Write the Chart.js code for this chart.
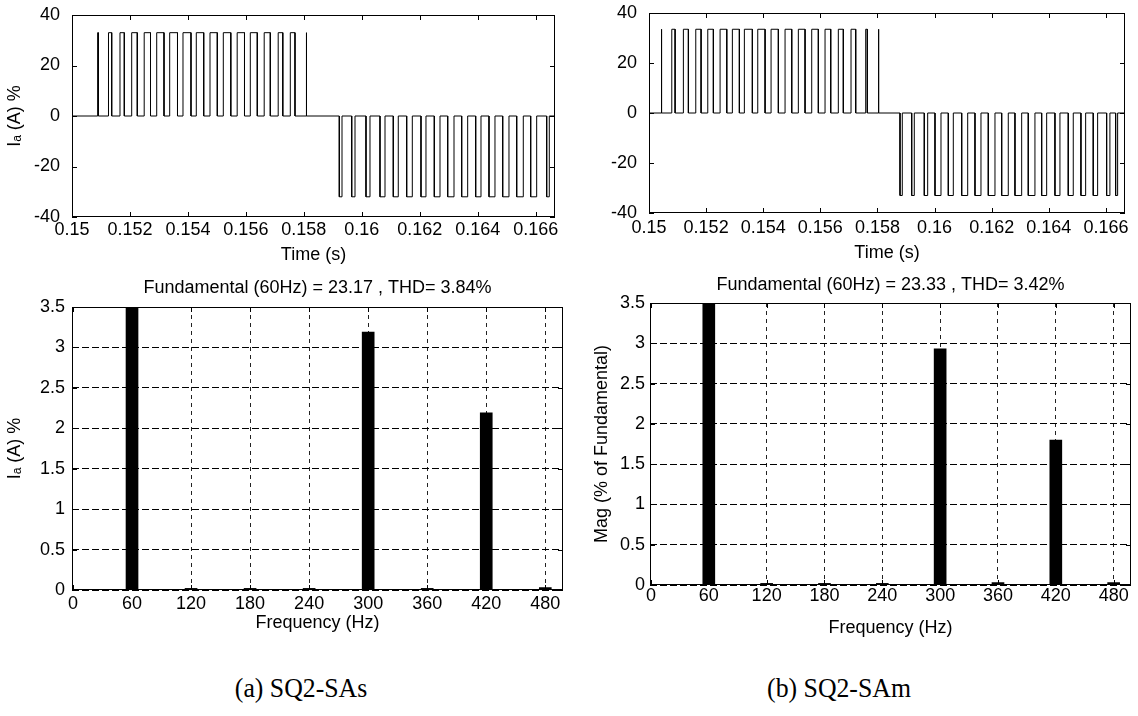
<!DOCTYPE html>
<html>
<head>
<meta charset="utf-8">
<script src="https://cdn.jsdelivr.net/npm/chart.js@4.4.0/dist/chart.umd.min.js"></script>
<style>
  html, body { margin: 0; padding: 0; background: #fff; }
  #page { position: relative; width: 1138px; height: 716px; overflow: hidden; background: #fff; }
  #page canvas { position: absolute; }
  .cap { position: absolute; font-family: "Liberation Serif", "Times New Roman", serif; font-size: 28px; color: #000; white-space: nowrap; transform: translateX(-50%) scaleX(0.92); }
</style>
</head>
<body>
<div id="page">
  <canvas id="waveA" width="585" height="264" style="left:0px;top:0px"></canvas>
  <canvas id="waveB" width="557" height="262" style="left:580px;top:0px"></canvas>
  <canvas id="specA" width="583" height="362" style="left:0px;top:270px"></canvas>
  <canvas id="specB" width="553" height="367" style="left:585px;top:270px"></canvas>
  <div class="cap" style="left:301px;top:672px">(a) SQ2-SAs</div>
  <div class="cap" style="left:839px;top:672px">(b) SQ2-SAm</div>
</div>
<script>
// ---- time traces ----
const timeStart = 0.15;
const timeEnd = 0.166667;
const timeTicks = [0.15, 0.152, 0.154, 0.156, 0.158, 0.16, 0.162, 0.164, 0.166];
const timeTickLabels = ['0.15', '0.152', '0.154', '0.156', '0.158', '0.16', '0.162', '0.164', '0.166'];
const currentTicks = [-40, -20, 0, 20, 40];

// switching pulses [on, off] in seconds
const pulsesAPos = [
  [0.150887, 0.150908], [0.151259, 0.151370], [0.151656, 0.151805], [0.152060, 0.152253],
  [0.152491, 0.152709], [0.152923, 0.153175], [0.153371, 0.153640], [0.153830, 0.154106],
  [0.154289, 0.154545], [0.154762, 0.155014], [0.155221, 0.155480], [0.155700, 0.155952],
  [0.156153, 0.156394], [0.156632, 0.156843], [0.157115, 0.157274], [0.157533, 0.157695],
  [0.158075, 0.158099]
];
const pulsesANeg = [
  [0.159224, 0.159317], [0.159652, 0.159766], [0.160145, 0.160283], [0.160628, 0.160801],
  [0.161087, 0.161259], [0.161549, 0.161743], [0.162043, 0.162215], [0.162502, 0.162699],
  [0.162964, 0.163182], [0.163447, 0.163654], [0.163930, 0.164113], [0.164389, 0.164596],
  [0.164862, 0.165079], [0.165345, 0.165573], [0.165828, 0.166035], [0.166380, 0.166470]
];
const levelA = [33, -32];

const pulsesBPos = [
  [0.150424, 0.150448], [0.150798, 0.150914], [0.151204, 0.151379], [0.151638, 0.151824],
  [0.152058, 0.152254], [0.152489, 0.152723], [0.152919, 0.153164], [0.153339, 0.153619],
  [0.153808, 0.154064], [0.154274, 0.154529], [0.154764, 0.154998], [0.155229, 0.155464],
  [0.155698, 0.155929], [0.156164, 0.156363], [0.156629, 0.156804], [0.157074, 0.157238],
  [0.157588, 0.157644], [0.158029, 0.158047]
];
const pulsesBNeg = [
  [0.158789, 0.158869], [0.159198, 0.159289], [0.159639, 0.159758], [0.160014, 0.160224],
  [0.160480, 0.160655], [0.160949, 0.161159], [0.161414, 0.161624], [0.161880, 0.162114],
  [0.162349, 0.162580], [0.162814, 0.163049], [0.163280, 0.163514], [0.163749, 0.163924],
  [0.164214, 0.164389], [0.164680, 0.164855], [0.165124, 0.165289], [0.165555, 0.165709],
  [0.166024, 0.166139], [0.166339, 0.166409]
];
const levelB = [33.5, -33];

// ---- harmonic spectra ----
const freqTicks = [0, 60, 120, 180, 240, 300, 360, 420, 480];
const harmonicFreqs = [60, 120, 180, 240, 300, 360, 420, 480];
const harmonicsA = [100, 0.02, 0.02, 0.02, 3.19, 0.02, 2.19, 0.03];
const harmonicsB = [100, 0.02, 0.02, 0.02, 2.93, 0.03, 1.80, 0.03];
const magTicks = [0, 0.5, 1, 1.5, 2, 2.5, 3, 3.5];
const titleA = 'Fundamental (60Hz) = 23.17 , THD= 3.84%';
const titleB = 'Fundamental (60Hz) = 23.33 , THD= 3.42%';

Chart.defaults.font.family = '"Liberation Sans", Arial, sans-serif';
Chart.defaults.font.size = 18;
Chart.defaults.font.lineHeight = 1;
Chart.defaults.color = '#000';

// matlab style box with the ticks pointing inwards
const boxTicks = {
  id: 'boxTicks',
  afterDatasetsDraw(chart) {
    const ctx = chart.ctx, a = chart.chartArea;
    const xs = chart.scales.x, ys = chart.scales.y;
    ctx.save();
    ctx.strokeStyle = '#000';
    ctx.lineWidth = 1;
    ctx.beginPath();
    xs.ticks.forEach(t => {
      const px = Math.round(xs.getPixelForValue(t.value)) + 0.5;
      ctx.moveTo(px, a.bottom); ctx.lineTo(px, a.bottom - 5);
      ctx.moveTo(px, a.top); ctx.lineTo(px, a.top + 5);
    });
    ys.ticks.forEach(t => {
      const py = Math.round(ys.getPixelForValue(t.value)) + 0.5;
      ctx.moveTo(a.left, py); ctx.lineTo(a.left + 5, py);
      ctx.moveTo(a.right, py); ctx.lineTo(a.right - 5, py);
    });
    ctx.stroke();
    ctx.strokeRect(Math.round(a.left) + 0.5, Math.round(a.top) + 0.5, Math.round(a.width) - 1, Math.round(a.height) - 1);
    ctx.restore();
  }
};

function trace(pos, neg, level) {
  const pts = [{x: timeStart, y: 0}];
  pos.forEach(p => pts.push({x: p[0], y: 0}, {x: p[0], y: level[0]}, {x: p[1], y: level[0]}, {x: p[1], y: 0}));
  neg.forEach(p => pts.push({x: p[0], y: 0}, {x: p[0], y: level[1]}, {x: p[1], y: level[1]}, {x: p[1], y: 0}));
  pts.push({x: timeEnd, y: 0});
  return pts;
}

function waveChart(id, pts, g) {
  return new Chart(document.getElementById(id), {
    type: 'line',
    data: { datasets: [{ data: pts, borderColor: '#000', borderWidth: 1, pointRadius: 0, tension: 0, fill: false }] },
    options: {
      responsive: false, animation: false, devicePixelRatio: 1,
      layout: { padding: g.pad },
      plugins: { legend: { display: false }, tooltip: { enabled: false } },
      scales: {
        x: {
          type: 'linear', min: timeStart, max: timeEnd,
          afterBuildTicks: s => { s.ticks = timeTicks.map(v => ({value: v})); },
          afterFit: s => { s.height = g.xh; },
          grid: { display: false }, border: { display: false },
          ticks: { padding: g.xtp, autoSkip: false, maxRotation: 0, callback: (v, i) => timeTickLabels[i] },
          title: { display: true, text: 'Time (s)', padding: { top: 0, bottom: g.xtb } }
        },
        y: {
          min: -40, max: 40,
          afterBuildTicks: s => { s.ticks = currentTicks.map(v => ({value: v})); },
          afterFit: s => { s.width = g.yw; },
          grid: { display: false }, border: { display: false },
          ticks: { padding: g.ytp },
          title: { display: !!g.ytitle, text: g.ytitle || '', padding: { top: g.ytt, bottom: 0 } }
        }
      }
    },
    plugins: [boxTicks]
  });
}

function specChart(id, vals, title, g) {
  return new Chart(document.getElementById(id), {
    type: 'bar',
    data: { datasets: [{ data: harmonicFreqs.map((f, i) => ({x: f, y: vals[i]})), backgroundColor: '#000', borderWidth: 0, barThickness: 12 }] },
    options: {
      responsive: false, animation: false, devicePixelRatio: 1,
      layout: { padding: g.pad },
      plugins: {
        legend: { display: false }, tooltip: { enabled: false },
        title: { display: true, text: title, fullSize: false, padding: { top: g.tt, bottom: g.tb }, font: { weight: 'normal', size: 18 } }
      },
      scales: {
        x: {
          type: 'linear', min: -1, max: 498, offset: false,
          afterBuildTicks: s => { s.ticks = freqTicks.map(v => ({value: v})); },
          afterFit: s => { s.height = g.xh; },
          grid: { color: '#222', lineWidth: 1, drawTicks: false, offset: false },
          border: { display: false, dash: [4, 4] },
          ticks: { padding: g.xtp, autoSkip: false, maxRotation: 0 },
          title: { display: true, text: 'Frequency (Hz)', padding: { top: 0, bottom: g.xtb } }
        },
        y: {
          min: 0, max: 3.5,
          afterBuildTicks: s => { s.ticks = magTicks.map(v => ({value: v})); },
          afterFit: s => { s.width = g.yw; },
          grid: { color: '#000', lineWidth: 1, drawTicks: false },
          border: { display: false, dash: [7, 3] },
          ticks: { padding: g.ytp, callback: v => String(v) },
          title: { display: true, text: g.ytitle, padding: { top: g.ytt, bottom: 0 } }
        }
      }
    },
    plugins: [boxTicks]
  });
}

waveChart('waveA', trace(pulsesAPos, pulsesANeg, levelA),
  { pad: {top: 15, left: 0, right: 30, bottom: 0}, xh: 47, xtp: -3.5, xtb: 0, yw: 72, ytp: 4, ytitle: 'I\u2090 (A) %', ytt: 6 });
waveChart('waveB', trace(pulsesBPos, pulsesBNeg, levelB),
  { pad: {top: 12, left: 0, right: 12, bottom: 0}, xh: 49, xtp: -2, xtb: 0.3, yw: 69, ytp: 4 });
specChart('specA', harmonicsA, titleA,
  { pad: {top: 0, left: 0, right: 20, bottom: 0}, tt: 9.5, tb: 9.5, xh: 42, xtp: 5.5, xtb: 0, yw: 72, ytp: 7, ytitle: 'I\u2090 (A) %', ytt: 6 });
specChart('specB', harmonicsB, titleB,
  { pad: {top: 0, left: 0, right: 7, bottom: 0}, tt: 6, tb: 9, xh: 52, xtp: 2.5, xtb: 0, yw: 65, ytp: 5, ytitle: 'Mag (% of Fundamental)', ytt: 7.7 });
</script>
</body>
</html>
